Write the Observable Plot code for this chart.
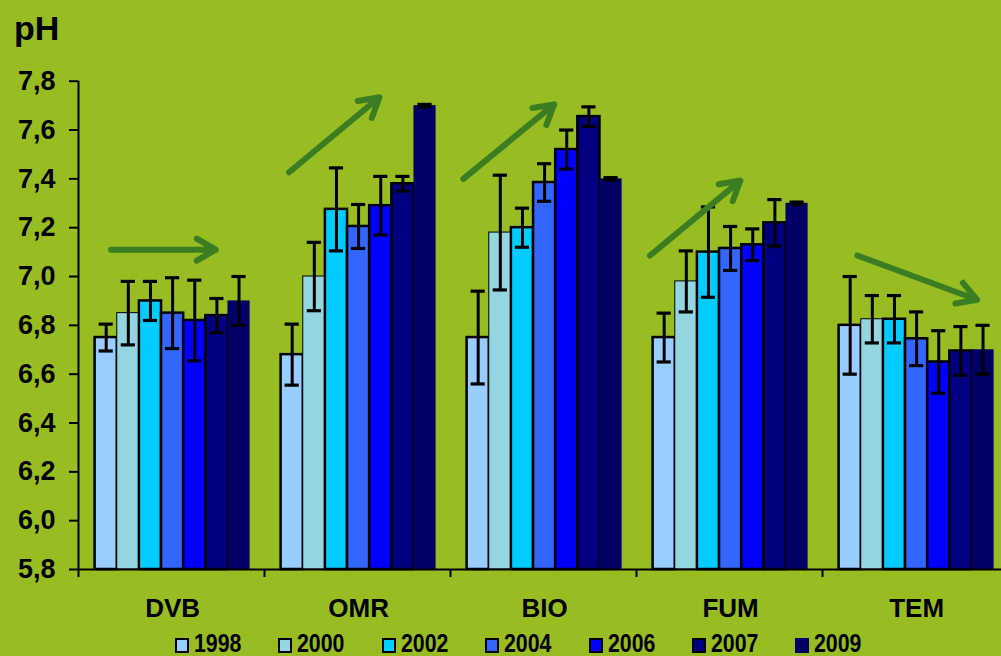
<!DOCTYPE html>
<html>
<head>
<meta charset="utf-8">
<script src="https://cdn.jsdelivr.net/npm/d3@7"></script>
<script src="https://cdn.jsdelivr.net/npm/@observablehq/plot@0.6"></script>
<style>
  html, body { margin: 0; padding: 0; background: #97bd23; overflow: hidden; }
  body { width: 1001px; height: 656px; font-family: "Liberation Sans", Arial, sans-serif; color: #000; }
  #title { height: 50px; line-height: 56px; padding-left: 14px; font-size: 34px; font-weight: bold; }
  #chart svg { display: block; }
  #legend { height: 26px; line-height: 32px; padding-left: 175px; display: flex; white-space: nowrap;
            font-size: 26px; font-weight: bold; }
  #legend .item { width: 103.4px; display: flex; align-items: center; }
  #legend .swatch { flex: none; width: 10px; height: 11px; border: 2px solid #000; margin-right: 5px; margin-top: 4px; }
  #legend .name { display: inline-block; transform: scaleX(0.82); transform-origin: left center; }
</style>
</head>
<body>
<div id="title">pH</div>
<div id="chart"></div>
<div id="legend"></div>
<script>
// Treatments (groups) and sampling years (series)
const groups = ["DVB", "OMR", "BIO", "FUM", "TEM"];
const years = ["1998", "2000", "2002", "2004", "2006", "2007", "2009"];
const yearColors = ["#99ccff", "#93d6e2", "#00ccff", "#3366ff", "#0000ff", "#000080", "#000066"];

// Mean soil pH per year, one array per treatment
const phDVB = [6.75, 6.85, 6.90, 6.85, 6.82, 6.84, 6.90];
const phOMR = [6.68, 7.00, 7.275, 7.205, 7.29, 7.38, 7.70];
const phBIO = [6.75, 7.18, 7.20, 7.385, 7.52, 7.655, 7.40];
const phFUM = [6.75, 6.98, 7.10, 7.115, 7.13, 7.22, 7.30];
const phTEM = [6.80, 6.825, 6.825, 6.745, 6.65, 6.695, 6.70];

// Standard deviations (error bars)
const sdDVB = [0.055, 0.13, 0.08, 0.145, 0.165, 0.07, 0.10];
const sdOMR = [0.125, 0.14, 0.17, 0.09, 0.12, 0.03, 0.005];
const sdBIO = [0.19, 0.235, 0.08, 0.077, 0.08, 0.04, 0.005];
const sdFUM = [0.10, 0.125, 0.185, 0.09, 0.065, 0.095, 0.005];
const sdTEM = [0.20, 0.097, 0.097, 0.11, 0.128, 0.10, 0.10];

// Y axis tick values
const yTicks = [5.8, 6.0, 6.2, 6.4, 6.6, 6.8, 7.0, 7.2, 7.4, 7.6, 7.8];

// Trend arrows: bar slots within the group, pH at tail and head
const trendArrows = [
  { group: "DVB", from: 0.72, to: 5.45, start: 7.11, end: 7.11 },
  { group: "OMR", from: 0.36, to: 4.44, start: 7.427, end: 7.734 },
  { group: "BIO", from: -0.17, to: 3.93, start: 7.40, end: 7.705 },
  { group: "FUM", from: -0.14, to: 3.94, start: 7.086, end: 7.393 },
  { group: "TEM", from: 0.82, to: 6.23, start: 7.086, end: 6.905 }
];

const phByGroup = { DVB: phDVB, OMR: phOMR, BIO: phBIO, FUM: phFUM, TEM: phTEM };
const sdByGroup = { DVB: sdDVB, OMR: sdOMR, BIO: sdBIO, FUM: sdFUM, TEM: sdTEM };

// Layout in bar-slot units: 7 bars per group, groups repeat every 8.4 slots
const W = 1001, H = 580;
const mLeft = 78, mRight = 0, mTop = 30.7, mBottom = 61;
const slotPx = 155 / 7;
const period = 8.4;
const groupOffset = 0.75;
const xMax = (W - mLeft - mRight) / slotPx;
const yMin = 5.8, yMax = 7.8;
const groupStart = g => groups.indexOf(g) * period + groupOffset;

const rows = groups.flatMap(g => years.map((y, i) => ({
  group: g, year: y, i,
  value: phByGroup[g][i],
  sd: sdByGroup[g][i],
  x1: groupStart(g) + i,
  x2: groupStart(g) + i + 1,
  xc: groupStart(g) + i + 0.5
})));

const strokeFor = { "2000": 1, "2009": 0 };
const capHalf = 0.32;

const plot = Plot.plot({
  width: W, height: H,
  marginLeft: mLeft, marginRight: mRight, marginTop: mTop, marginBottom: mBottom,
  style: { background: "transparent", fontFamily: "'Liberation Sans', Arial, sans-serif", color: "#000", overflow: "visible" },
  x: { domain: [0, xMax], axis: null },
  y: { domain: [yMin, yMax], axis: null },
  color: { domain: years, range: yearColors },
  marks: [
    // bars
    Plot.rect(rows, {
      x1: "x1", x2: "x2", y1: () => yMin, y2: "value", fill: "year",
      stroke: d => (strokeFor[d.year] === 0 ? "none" : "#000"),
      strokeWidth: d => (strokeFor[d.year] ?? 2.5)
    }),
    // error bars
    Plot.ruleX(rows, { x: "xc", y1: d => d.value - d.sd, y2: d => d.value + d.sd, stroke: "#000", strokeWidth: 3 }),
    Plot.ruleY(rows, { y: d => d.value + d.sd, x1: d => d.xc - capHalf, x2: d => d.xc + capHalf, stroke: "#000", strokeWidth: 3.2 }),
    Plot.ruleY(rows, { y: d => d.value - d.sd, x1: d => d.xc - capHalf, x2: d => d.xc + capHalf, stroke: "#000", strokeWidth: 3.2 }),
    // axes lines
    Plot.ruleX([0], { stroke: "#000", strokeWidth: 2 }),
    Plot.ruleY([yMin], { stroke: "#000", strokeWidth: 2 }),
    Plot.axisY({
      ticks: yTicks, tickSize: 9, tickPadding: 14, strokeWidth: 2,
      tickFormat: d => d.toFixed(1).replace(".", ","),
      fontSize: 27, fontWeight: 600, label: null
    }),
    Plot.axisX({
      ticks: d3.range(0, groups.length).map(g => g * period),
      tickSize: 8, strokeWidth: 2, tickFormat: () => "", label: null
    }),
    // group labels
    Plot.text(groups, {
      x: g => groupStart(g) + 3.5, y: () => yMin, dy: 39.5,
      fontSize: 26, fontWeight: "bold", fill: "#000"
    }),
    // trend arrows
    Plot.arrow(trendArrows, {
      x1: d => groupStart(d.group) + d.from, x2: d => groupStart(d.group) + d.to,
      y1: "start", y2: "end",
      stroke: "#3a7d22", strokeWidth: 6, headLength: 5.5
    })
  ]
});
document.getElementById("chart").append(plot);

// legend
const legend = d3.select("#legend");
years.forEach((y, i) => {
  const item = legend.append("div").attr("class", "item");
  item.append("div").attr("class", "swatch")
    .style("background", yearColors[i])
    .style("border-color", y === "2009" ? yearColors[i] : "#000");
  item.append("span").attr("class", "name").text(y);
});
</script>
</body>
</html>
